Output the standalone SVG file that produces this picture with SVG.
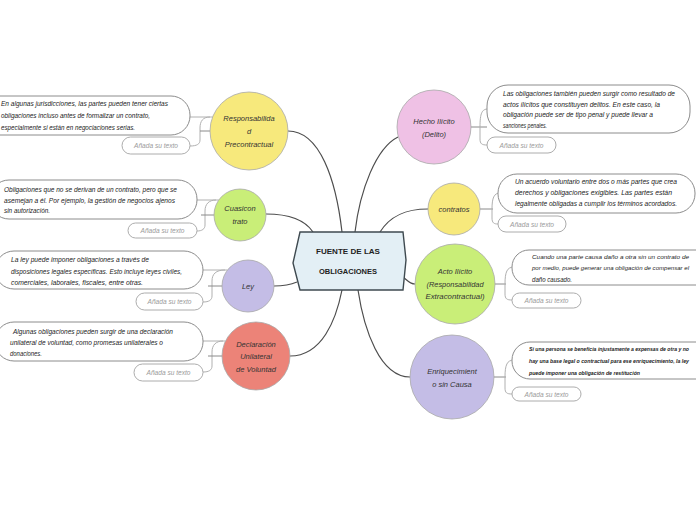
<svg xmlns="http://www.w3.org/2000/svg" width="696" height="520" viewBox="0 0 696 520">
<style>
.t{font-family:"Liberation Sans",Arial,sans-serif;font-style:italic;font-size:7px;fill:#222}
.s{font-family:"Liberation Sans",Arial,sans-serif;font-style:italic;font-weight:bold;font-size:5.6px;fill:#222}
.n{font-family:"Liberation Sans",Arial,sans-serif;font-style:italic;font-size:7.5px;fill:#333;text-anchor:middle}
.a{font-family:"Liberation Sans",Arial,sans-serif;font-style:italic;font-size:6.5px;fill:#9a9a9a;text-anchor:middle}
.c{font-family:"Liberation Sans",Arial,sans-serif;font-weight:bold;font-size:7.5px;fill:#222;text-anchor:middle}
.box{fill:#fff;stroke:#8c8c8c;stroke-width:1}
.abox{fill:#fff;stroke:#a3a3a3;stroke-width:0.9}
.br{fill:none;stroke:#b0b0b0;stroke-width:1}
.st{fill:none;stroke:#8a8a8a;stroke-width:1}
.main{fill:none;stroke:#4d4d4d;stroke-width:1.2}
.circ{stroke:#a8a8a8;stroke-width:0.8}
</style>
<rect width="696" height="520" fill="#fff"/>
<g id="connectors">
<path class="main" d="M288,131 C320,131 336,180 342,232"/>
<path class="main" d="M266,214 C290,214 305,220 313,232"/>
<path class="main" d="M274,286 C285,286 290,285 297,282"/>
<path class="main" d="M290,356 C322,356 336,320 342,290"/>
<path class="main" d="M398,137 C376,148 360,190 355,232"/>
<path class="main" d="M428,209 C405,209 390,216 380,232"/>
<path class="main" d="M402,276 C408,281 410,284 415,284"/>
<path class="main" d="M410,377 C380,377 364,330 358,290"/>
<line class="br" x1="190" y1="117" x2="212.6" y2="117"/>
<path class="br" d="M210,117 C203,117 200,121 200,128 L200,140 C200,144 197,146 190,146"/>
<line class="st" x1="200" y1="131" x2="210" y2="131"/>
<line class="br" x1="197" y1="200" x2="218.8" y2="200"/>
<path class="br" d="M216,200 C209,200 205,204 205,211 L205,225 C205,229 202,231 197,231"/>
<line class="st" x1="201" y1="215" x2="214" y2="215"/>
<line class="br" x1="203" y1="270" x2="227.5" y2="270"/>
<path class="br" d="M225,270 C216,270 212,274 212,281 L212,296 C212,300 209,302 203,302"/>
<line class="st" x1="208" y1="286" x2="222" y2="286"/>
<line class="br" x1="203" y1="341" x2="225.5" y2="341"/>
<path class="br" d="M223,341 C216,341 212,345 212,352 L212,366 C212,370 209,372 203,372"/>
<line class="st" x1="208" y1="356" x2="222" y2="356"/>
<line class="st" x1="471" y1="127" x2="487" y2="127"/>
<path class="br" d="M480,127 C480,113 482,109 488,109"/>
<path class="br" d="M480,127 L480,139 C480,144 482,145 487,145"/>
<line class="st" x1="480" y1="209" x2="493" y2="209"/>
<path class="br" d="M492,209 C492,198 494,193 500,193"/>
<path class="br" d="M492,209 L492,218 C492,223 494,224 498,224"/>
<line class="st" x1="495" y1="284" x2="506" y2="284"/>
<path class="br" d="M505,284 C505,272 507,267 514,267"/>
<path class="br" d="M505,284 L505,294 C505,299 507,300 512,300"/>
<line class="st" x1="494" y1="377" x2="506" y2="377"/>
<path class="br" d="M505,377 C505,365 507,360 514,360"/>
<path class="br" d="M505,377 L505,388 C505,393 507,394 512,394"/>
</g>
<g id="center">
<polygon points="300,232 403,232 406,260 403,290 300,290 293,263" fill="#e3eff5" stroke="#3f4a50" stroke-width="1.4"/>
<text class="c" x="348" y="254" textLength="64" lengthAdjust="spacingAndGlyphs">FUENTE DE LAS</text>
<text class="c" x="348" y="274" textLength="58" lengthAdjust="spacingAndGlyphs">OBLIGACIONES</text>
</g>
<g id="responsabilidad">
<circle class="circ" cx="249" cy="131" r="39" fill="#f7e97c"/>
<text class="n" x="249" y="120.5">Responsabilida</text>
<text class="n" x="249" y="133.5">d</text>
<text class="n" x="249" y="146.5">Precontractual</text>
<rect class="box" x="-20" y="96" width="210" height="39" rx="19"/>
<text class="t" x="1" y="105.5" textLength="167" lengthAdjust="spacingAndGlyphs">En algunas jurisdicciones, las partes pueden tener ciertas</text>
<text class="t" x="1" y="118" textLength="149" lengthAdjust="spacingAndGlyphs">obligaciones incluso antes de formalizar un contrato,</text>
<text class="t" x="1" y="129.5" textLength="134" lengthAdjust="spacingAndGlyphs">especialmente si están en negociaciones serias.</text>
<rect class="abox" x="122" y="137" width="68" height="17" rx="8.5"/>
<text class="a" x="156" y="148" textLength="44" lengthAdjust="spacingAndGlyphs">Añada su texto</text>
</g>
<g id="cuasicontrato">
<circle class="circ" cx="240" cy="215" r="26" fill="#c9ee78"/>
<text class="n" x="240" y="210.5">Cuasicon</text>
<text class="n" x="240" y="223.5">trato</text>
<rect class="box" x="-10" y="180" width="207" height="39" rx="19"/>
<text class="t" x="4" y="191.5" textLength="173" lengthAdjust="spacingAndGlyphs">Obligaciones que no se derivan de un contrato, pero que se</text>
<text class="t" x="4" y="202.5" textLength="171" lengthAdjust="spacingAndGlyphs">asemejan a él. Por ejemplo, la gestión de negocios ajenos</text>
<text class="t" x="4" y="213" textLength="46" lengthAdjust="spacingAndGlyphs">sin autorización.</text>
<rect class="abox" x="128" y="223" width="69" height="15" rx="7.5"/>
<text class="a" x="162.5" y="233" textLength="44" lengthAdjust="spacingAndGlyphs">Añada su texto</text>
</g>
<g id="ley">
<circle class="circ" cx="248" cy="286" r="26" fill="#c4bde6"/>
<text class="n" x="248" y="288.5">Ley</text>
<rect class="box" x="-5" y="251" width="208" height="38" rx="19"/>
<text class="t" x="11" y="262" textLength="138" lengthAdjust="spacingAndGlyphs">La ley puede imponer obligaciones a través de</text>
<text class="t" x="11" y="273.5" textLength="171" lengthAdjust="spacingAndGlyphs">disposiciones legales específicas. Esto incluye leyes civiles,</text>
<text class="t" x="11" y="285" textLength="132" lengthAdjust="spacingAndGlyphs">comerciales, laborales, fiscales, entre otras.</text>
<rect class="abox" x="136" y="293" width="67" height="17" rx="8.5"/>
<text class="a" x="169.5" y="303.5" textLength="44" lengthAdjust="spacingAndGlyphs">Añada su texto</text>
</g>
<g id="declaracion">
<circle class="circ" cx="256" cy="356" r="34" fill="#ec8378"/>
<text class="n" x="256" y="346.5">Declaración</text>
<text class="n" x="256" y="358.5">Unilateral</text>
<text class="n" x="256" y="371.5">de Voluntad</text>
<rect class="box" x="-5" y="322" width="208" height="39" rx="19"/>
<text class="t" x="13" y="333.5" textLength="160" lengthAdjust="spacingAndGlyphs">Algunas obligaciones pueden surgir de una declaración</text>
<text class="t" x="10" y="344.5" textLength="153" lengthAdjust="spacingAndGlyphs">unilateral de voluntad, como promesas unilaterales o</text>
<text class="t" x="10" y="355.5" textLength="32" lengthAdjust="spacingAndGlyphs">donaciones.</text>
<rect class="abox" x="134" y="364" width="69" height="17" rx="8.5"/>
<text class="a" x="168.5" y="375" textLength="44" lengthAdjust="spacingAndGlyphs">Añada su texto</text>
</g>
<g id="hecho-ilicito">
<circle class="circ" cx="434" cy="127" r="37" fill="#efc1e5"/>
<text class="n" x="434" y="123.5">Hecho Ilícito</text>
<text class="n" x="434" y="136.5">(Delito)</text>
<rect class="box" x="487" y="85" width="203" height="48" rx="21"/>
<text class="t" x="503" y="95.5" textLength="172" lengthAdjust="spacingAndGlyphs">Las obligaciones también pueden surgir como resultado de</text>
<text class="t" x="503" y="106.5" textLength="157" lengthAdjust="spacingAndGlyphs">actos ilícitos que constituyen delitos. En este caso, la</text>
<text class="t" x="503" y="117" textLength="150" lengthAdjust="spacingAndGlyphs">obligación puede ser de tipo penal y puede llevar a</text>
<text class="t" x="503" y="127.5" textLength="44" lengthAdjust="spacingAndGlyphs">sanciones penales.</text>
<rect class="abox" x="487" y="137" width="69" height="16" rx="8"/>
<text class="a" x="521.5" y="147.5" textLength="44" lengthAdjust="spacingAndGlyphs">Añada su texto</text>
</g>
<g id="contratos">
<circle class="circ" cx="454" cy="209" r="26" fill="#f7e97c"/>
<text class="n" x="454" y="211.5">contratos</text>
<rect class="box" x="498" y="174" width="197" height="39" rx="19"/>
<text class="t" x="515" y="184" textLength="162" lengthAdjust="spacingAndGlyphs">Un acuerdo voluntario entre dos o más partes que crea</text>
<text class="t" x="515" y="195" textLength="157" lengthAdjust="spacingAndGlyphs">derechos y obligaciones exigibles. Las partes están</text>
<text class="t" x="515" y="205.5" textLength="162" lengthAdjust="spacingAndGlyphs">legalmente obligadas a cumplir los términos acordados.</text>
<rect class="abox" x="498" y="216" width="68" height="16" rx="8"/>
<text class="a" x="532" y="226.5" textLength="44" lengthAdjust="spacingAndGlyphs">Añada su texto</text>
</g>
<g id="acto-ilicito">
<circle class="circ" cx="455" cy="284" r="40" fill="#c9ee78"/>
<text class="n" x="455" y="274">Acto Ilícito</text>
<text class="n" x="455" y="286.5" textLength="57" lengthAdjust="spacingAndGlyphs">(Responsabilidad</text>
<text class="n" x="455" y="299" textLength="59" lengthAdjust="spacingAndGlyphs">Extracontractual)</text>
<rect class="box" x="512" y="250" width="210" height="35" rx="17"/>
<text class="t" x="532" y="259" style="font-size:6.2px" textLength="157" lengthAdjust="spacingAndGlyphs">Cuando una parte causa daño a otra sin un contrato de</text>
<text class="t" x="532" y="270" style="font-size:6.2px" textLength="157" lengthAdjust="spacingAndGlyphs">por medio, puede generar una obligación de compensar el</text>
<text class="t" x="532" y="281.5" textLength="40" lengthAdjust="spacingAndGlyphs">daño causado.</text>
<rect class="abox" x="512" y="293" width="69" height="15" rx="7.5"/>
<text class="a" x="546.5" y="303" textLength="44" lengthAdjust="spacingAndGlyphs">Añada su texto</text>
</g>
<g id="enriquecimiento">
<circle class="circ" cx="452" cy="377" r="42" fill="#c4bde6"/>
<text class="n" x="452" y="373.5">Enriquecimient</text>
<text class="n" x="452" y="386.5">o sin Causa</text>
<rect class="box" x="512" y="342" width="210" height="37" rx="18"/>
<text class="s" x="529" y="350.5" style="font-size:4.9px" textLength="160" lengthAdjust="spacingAndGlyphs">Si una persona se beneficia injustamente a expensas de otra y no</text>
<text class="s" x="529" y="363" style="font-size:4.9px" textLength="160" lengthAdjust="spacingAndGlyphs">hay una base legal o contractual para ese enriquecimiento, la ley</text>
<text class="s" x="529" y="374.5" textLength="111" lengthAdjust="spacingAndGlyphs">puede imponer una obligación de restitución</text>
<rect class="abox" x="512" y="387" width="69" height="14" rx="7"/>
<text class="a" x="546.5" y="396.5" textLength="44" lengthAdjust="spacingAndGlyphs">Añada su texto</text>
</g>
</svg>
